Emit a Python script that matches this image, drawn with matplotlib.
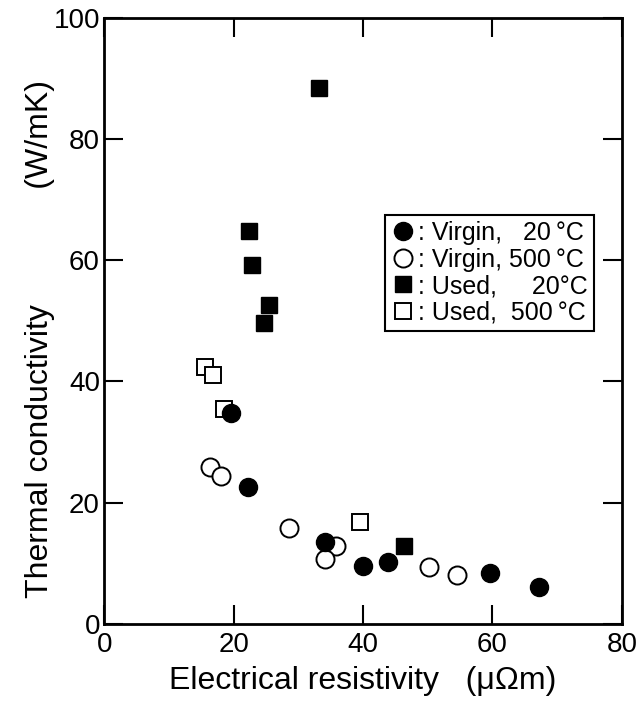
import matplotlib.pyplot as plt

plt.rcParams['font.family'] = ['Liberation Sans', 'DejaVu Sans']

# Virgin, 20 C (filled circles)
virgin20_x = [19.6, 22.2, 34.2, 40.0, 43.8, 59.6, 67.2]
virgin20_y = [34.8, 22.5, 13.5, 9.5, 10.2, 8.3, 6.0]

# Virgin, 500 C (open circles)
virgin500_x = [16.3, 18.1, 28.5, 35.8, 34.2, 50.2, 54.6]
virgin500_y = [25.8, 24.3, 15.8, 12.8, 10.6, 9.4, 8.0]

# Used, 20 C (filled squares)
used20_x = [33.2, 22.4, 22.9, 25.5, 24.7, 46.3]
used20_y = [88.4, 64.9, 59.2, 52.6, 49.7, 12.8]

# Used, 500 C (open squares)
used500_x = [15.6, 16.8, 18.5, 39.5]
used500_y = [42.4, 41.0, 35.5, 16.7]

fig = plt.figure(figsize=(6.43, 7.03), dpi=100)
ax = fig.add_axes([0.162, 0.113, 0.805, 0.861])

ax.plot(used500_x, used500_y, 's', ms=11.5, mfc='white', mec='black', mew=1.4, ls='none',
        label=': Used,  500\u2009°C', zorder=2)
ax.plot(virgin500_x, virgin500_y, 'o', ms=13, mfc='white', mec='black', mew=1.4, ls='none',
        label=': Virgin, 500\u2009°C', zorder=3)
ax.plot(used20_x, used20_y, 's', ms=11.5, color='black', ls='none',
        label=': Used,     20°C', zorder=4)
ax.plot(virgin20_x, virgin20_y, 'o', ms=13, color='black', ls='none',
        label=': Virgin,   20\u2009°C', zorder=5)

ax.set_xlim(0, 80)
ax.set_ylim(0, 100)
ax.set_xticks([0, 20, 40, 60, 80])
ax.set_yticks([0, 20, 40, 60, 80, 100])
ax.tick_params(direction='in', length=14, width=1.5, top=True, right=True,
               labelsize=20, pad=6)
ax.tick_params(axis='y', pad=3)
for s in ax.spines.values():
    s.set_linewidth(2)

ax.set_xlabel('Electrical resistivity   (\u03bc\u03a9m)', fontsize=23, labelpad=6)
ax.set_ylabel('Thermal conductivity' + ' ' * 13 + '(W/mK)', fontsize=23)
ax.yaxis.set_label_coords(-0.095, 0.47)

handles, labels = ax.get_legend_handles_labels()
order = [3, 1, 2, 0]
leg = ax.legend([handles[i] for i in order], [labels[i] for i in order],
                loc='upper left', bbox_to_anchor=(0.542, 0.675), fontsize=18,
                frameon=True, fancybox=False, edgecolor='black', framealpha=1,
                handletextpad=0.1, handlelength=1.0, borderpad=0.25,
                labelspacing=0.1, borderaxespad=0)
leg.get_frame().set_linewidth(1.5)

plt.savefig('out.png', dpi=100)
